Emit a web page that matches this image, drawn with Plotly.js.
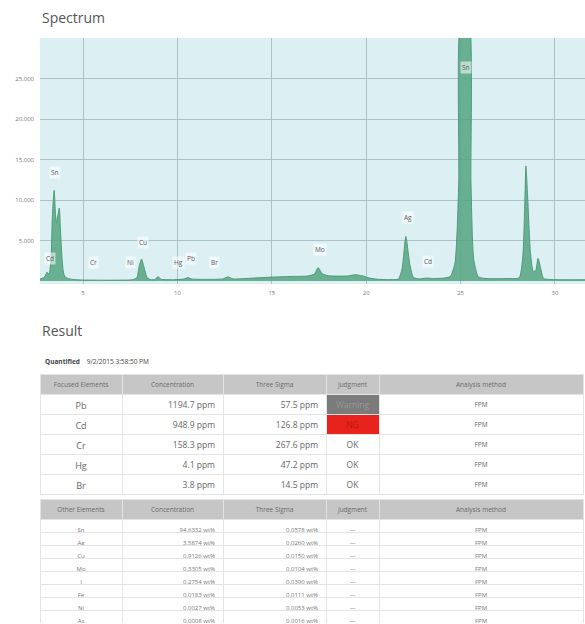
<!DOCTYPE html>
<html><head><meta charset="utf-8">
<script src="https://cdn.plot.ly/plotly-3.0.1.min.js"></script>
<style>html,body{margin:0;padding:0;background:#fff}#c{width:585px;height:624px}</style>
</head><body><div id="c"></div>
<script>
// Spectrum (keV vs counts)
const energy = [2.72,2.9,3.0,3.1,3.2,3.3,3.38,3.47,3.54,3.6,3.74,3.8,3.88,3.96,4.05,4.3,4.7,5.0,6.0,7.0,7.6,7.85,7.98,8.1,8.22,8.4,8.6,8.82,8.97,9.12,9.8,10.35,10.56,10.75,11.5,12.4,12.68,12.95,14.0,15.0,16.0,16.9,17.25,17.45,17.68,18.0,19.0,19.45,19.6,19.8,20.1,20.6,21.2,21.7,21.9,22.1,22.3,22.5,22.8,23.2,23.6,24.1,24.45,24.7,24.9,25.05,25.4,25.55,25.7,25.95,26.4,27.5,28.1,28.3,28.4,28.46,28.55,28.7,28.85,28.98,29.1,29.25,29.4,30.0,31.59];
const counts = [250,400,650,1100,800,2600,8200,11200,8300,7200,9000,6500,3000,1100,500,250,150,120,100,110,150,400,1900,2700,1800,400,160,200,550,220,160,250,420,250,200,260,500,260,360,480,560,620,850,1650,900,650,620,780,720,650,400,220,170,250,1500,5500,2200,450,260,360,300,360,550,2200,12000,33000,33000,12000,2600,500,300,300,400,3200,9500,14200,10500,3500,1200,1300,2800,1500,320,170,150];

// Peak labels
const peakNames = ["Sn","Cd","Cr","Ni","Cu","Hg","Pb","Br","Mo","Ag","Cd","Sn"];
const peakX = [3.52,3.25,5.53,7.49,8.18,10.08,10.72,11.94,17.55,22.21,23.27,25.29];
const peakY = [13450,2840,2280,2280,4800,2280,2750,2280,3950,7800,2470,26300];

// Result tables
const headers1 = ["Focused Elements","Concentration","Three Sigma","Judgment","Analysis method"];
const focusedElements = ["Pb","Cd","Cr","Hg","Br"];
const focusedConc = ["1194.7","948.9","158.3","4.1","3.8"];
const focusedSigma = ["57.5","126.8","267.6","47.2","14.5"];
const focusedJudgment = ["Warning","NG","OK","OK","OK"];
const focusedMethod = ["FPM","FPM","FPM","FPM","FPM"];

const headers2 = ["Other Elements","Concentration","Three Sigma","Judgment","Analysis method"];
const otherElements = ["Sn","Ag","Cu","Mo","I","Fe","Ni","As"];
const otherConc = ["94.6332","3.5874","0.9126","0.3305","0.2754","0.0183","0.0027","0.0008"];
const otherSigma = ["0.0578","0.0260","0.0150","0.0104","0.0390","0.0111","0.0053","0.0016"];
const otherJudgment = ["—","—","—","—","—","—","—","—"];
const otherMethod = ["FPM","FPM","FPM","FPM","FPM","FPM","FPM","FPM"];

const W = 585, H = 624;
const px = x => x / W, py = y => 1 - y / H;
const FONT = "Open Sans, Noto Sans, sans-serif";
const unit = (v, u) => v + '\u00a0' + u;

const judgFill1 = focusedJudgment.map(j => j === "NG" ? "#e8231d" : (j === "Warning" ? "#7b7b7b" : "#ffffff"));
const judgColor1 = focusedJudgment.map(j => j === "NG" ? "#c41410" : (j === "Warning" ? "#969696" : "#666666"));

const spectrum = {
  type: "scatter", mode: "lines", x: energy, y: counts,
  fill: "tozeroy", fillcolor: "rgba(88,166,131,0.88)",
  line: {color: "#4f9a79", width: 1, shape: "spline", smoothing: 0.6},
  hoverinfo: "skip", xaxis: "x", yaxis: "y"
};

const table1 = {
  type: "table",
  domain: {x: [px(40), px(583)], y: [py(496), py(374)]},
  columnwidth: [82, 101, 103, 53, 204],
  header: {
    values: headers1, height: 20,
    fill: {color: "#c6c6c6"}, line: {color: "#e2e2e2", width: 1},
    align: "center", font: {family: FONT, size: 6.5, color: "#6a6a6a"}
  },
  cells: {
    values: [focusedElements,
             focusedConc.map(v => unit(v, "ppm")),
             focusedSigma.map(v => unit(v, "ppm")),
             focusedJudgment, focusedMethod],
    height: 20,
    fill: {color: [["#fff"], ["#fff"], ["#fff"], judgFill1, ["#fff"]]},
    line: {color: "#e4e4e4", width: 1},
    align: ["center", "right", "right", "center", "center"],
    font: {family: FONT, size: [9, 8.5, 8.5, 8.5, 6.5], color: [["#666"], ["#666"], ["#666"], judgColor1, ["#666"]]}
  }
};

const table2 = {
  type: "table",
  domain: {x: [px(40), px(583)], y: [py(624), py(499)]},
  columnwidth: [82, 101, 103, 53, 204],
  header: {
    values: headers2, height: 20,
    fill: {color: "#c6c6c6"}, line: {color: "#e2e2e2", width: 1},
    align: "center", font: {family: FONT, size: 6.5, color: "#6a6a6a"}
  },
  cells: {
    values: [otherElements,
             otherConc.map(v => unit(v, "wt%")),
             otherSigma.map(v => unit(v, "wt%")),
             otherJudgment, otherMethod],
    height: 13,
    fill: {color: "#ffffff"},
    line: {color: "#e4e4e4", width: 1},
    align: ["center", "right", "right", "center", "center"],
    font: {family: FONT, size: 6, color: "#777"}
  }
};

const annotations = peakNames.map((n, i) => ({
  x: peakX[i], y: peakY[i], xref: "x", yref: "y", text: n, showarrow: false,
  font: {family: FONT, size: 6.5, color: "#5a5a5a"},
  bgcolor: "rgba(255,255,255,0.55)", borderpad: 1
}));
annotations.push(
  {x: px(40), y: py(17), xref: "paper", yref: "paper", xanchor: "left", yanchor: "middle",
   text: "Spectrum", showarrow: false, font: {family: FONT, size: 14, color: "#555"}},
  {x: px(40), y: py(330), xref: "paper", yref: "paper", xanchor: "left", yanchor: "middle",
   text: "Result", showarrow: false, font: {family: FONT, size: 14, color: "#555"}},
  {x: px(43), y: py(361), xref: "paper", yref: "paper", xanchor: "left", yanchor: "middle",
   text: "<b>Quantified</b>    9/2/2015 3:58:50 PM", showarrow: false,
   font: {family: FONT, size: 6.5, color: "#444"}}
);

const layout = {
  width: W, height: H, margin: {l: 0, r: 0, t: 0, b: 0},
  paper_bgcolor: "#ffffff", plot_bgcolor: "#dcf0f3", showlegend: false,
  xaxis: {domain: [px(40), 1], range: [2.72, 31.59], tick0: 0, dtick: 5,
          showgrid: true, gridcolor: "#a9c3c6", gridwidth: 1, zeroline: false,
          ticks: "", showline: false, ticklabelstandoff: 4,
          tickfont: {family: FONT, size: 6, color: "#777"}},
  yaxis: {domain: [py(284), py(38)], range: [-370, 30000],
          tickmode: "array", tickvals: [5000, 10000, 15000, 20000, 25000],
          tickformat: ",d", showgrid: true, gridcolor: "#a9c3c6", gridwidth: 1,
          zeroline: false, ticks: "", showline: false, ticklabelstandoff: 5,
          tickfont: {family: FONT, size: 6, color: "#777"}},
  annotations: annotations
};

Plotly.newPlot("c", [spectrum, table1, table2], layout, {displayModeBar: false, staticPlot: true});
</script></body></html>
